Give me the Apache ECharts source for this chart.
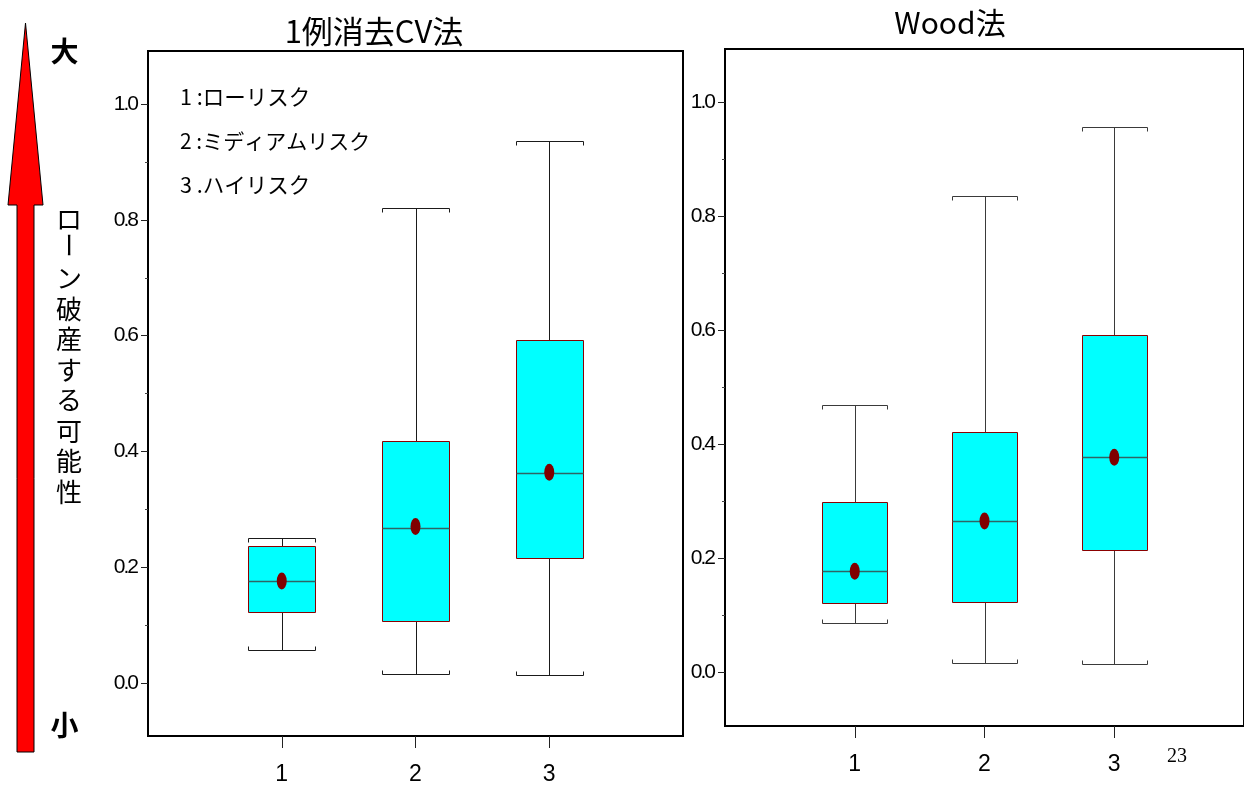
<!DOCTYPE html>
<html>
<head>
<meta charset="utf-8">
<script src="https://cdn.jsdelivr.net/npm/echarts@6/dist/echarts.min.js"></script>
<style>
html,body{margin:0;padding:0;background:#fff;}
#c{width:1244px;height:787px;}
</style>
</head>
<body>
<div id="c"></div>
<script>
// ---- data ----
const categories = ['1', '2', '3'];
const riskLabels = ['1 :ローリスク', '2 :ミディアムリスク', '3 .ハイリスク'];
const panelTitles = ['1例消去CV法', 'Wood法'];

// left panel: 1例消去CV法
const cvLow    = [0.056, 0.016, 0.014];
const cvQ1     = [0.122, 0.107, 0.216];
const cvMedian = [0.176, 0.268, 0.362];
const cvQ3     = [0.236, 0.418, 0.592];
const cvHigh   = [0.251, 0.821, 0.937];
const cvMean   = [0.176, 0.270, 0.364];

// right panel: Wood法
const woodLow    = [0.087, 0.017, 0.016];
const woodQ1     = [0.122, 0.124, 0.215];
const woodMedian = [0.178, 0.266, 0.378];
const woodQ3     = [0.300, 0.422, 0.593];
const woodHigh   = [0.470, 0.836, 0.957];
const woodMean   = [0.178, 0.266, 0.378];

const yTickValues  = [0, 0.2, 0.4, 0.6, 0.8, 1.0];
const yMinorValues = [0.1, 0.3, 0.5, 0.7, 0.9];
const xTickValues  = [1, 2, 3];

// ---- build ----
function boxData(low, q1, med, q3, high) {
  return categories.map((c, i) => [i + 1, low[i], q1[i], med[i], q3[i], high[i]]);
}
function meanData(mean) {
  return categories.map((c, i) => [i + 1, mean[i]]);
}

function makeRender(whiskerColor) {
  return function (params, api) {
    const x = api.value(0);
    const cx = Math.round(api.coord([x, 0])[0]) + 0.5;
    const l = Math.round(api.coord([x - 0.25, 0])[0]) + 0.5;
    const r = Math.round(api.coord([x + 0.25, 0])[0]) + 0.5;
    const Y = v => Math.round(api.coord([x, v])[1]) + 0.5;
    const yLow = Y(api.value(1)), yQ1 = Y(api.value(2)), yMed = Y(api.value(3)),
          yQ3 = Y(api.value(4)), yHigh = Y(api.value(5));
    const ws = { stroke: whiskerColor, lineWidth: 1, fill: null };
    return {
      type: 'group',
      children: [
        { type: 'line', shape: { x1: cx, y1: yLow, x2: cx, y2: yQ1 }, style: ws },
        { type: 'line', shape: { x1: cx, y1: yQ3, x2: cx, y2: yHigh }, style: ws },
        { type: 'polyline', shape: { points: [[l, yLow - 4], [l, yLow], [r, yLow], [r, yLow - 4]] }, style: ws },
        { type: 'polyline', shape: { points: [[l, yHigh + 4], [l, yHigh], [r, yHigh], [r, yHigh + 4]] }, style: ws },
        { type: 'rect', shape: { x: l, y: yQ3, width: r - l, height: yQ1 - yQ3 },
          style: { fill: '#00FFFF', stroke: '#8B0000', lineWidth: 1 } },
        { type: 'line', shape: { x1: l, y1: yMed, x2: r, y2: yMed },
          style: { stroke: '#2f6464', lineWidth: 1.5 } }
      ]
    };
  };
}

const numFont = '"Liberation Sans", Arial, sans-serif';
const yLabel = {
  customValues: yTickValues,
  margin: 9,
  formatter: v => { const s = v.toFixed(1).split('.'); return '{n|' + s[0] + '}{d|.}{n|' + s[1] + '}'; },
  rich: {
    n: { fontSize: 21, fontFamily: numFont, color: '#000' },
    d: { fontSize: 21, fontFamily: numFont, color: '#000', width: 2, align: 'center' }
  }
};

function yAxesFor(gridIndex, min, max) {
  return [
    { type: 'value', gridIndex, min, max, position: 'left',
      axisLine: { show: false, onZero: false },
      splitLine: { show: false },
      axisTick: { show: true, length: 7, customValues: yTickValues, lineStyle: { color: '#222', width: 1 } },
      axisLabel: yLabel },
    { type: 'value', gridIndex, min, max, position: 'left',
      axisLine: { show: false, onZero: false },
      splitLine: { show: false },
      axisTick: { show: true, length: 3, customValues: yMinorValues, lineStyle: { color: '#444', width: 1 } },
      axisLabel: { show: false } }
  ];
}

function xAxisFor(gridIndex) {
  return { type: 'value', gridIndex, min: 0, max: 4, position: 'bottom',
    axisLine: { show: false, onZero: false }, splitLine: { show: false },
    axisTick: { show: true, length: 12, customValues: xTickValues, lineStyle: { color: '#222', width: 1 } },
    axisLabel: { customValues: xTickValues, formatter: v => categories[v - 1] || '',
      fontSize: 23, fontFamily: numFont, color: '#000', margin: 27 } };
}

const chart = echarts.init(document.getElementById('c'));
const jp = '"Noto Sans CJK JP", "Noto Sans", sans-serif';

chart.setOption({
  animation: false,
  backgroundColor: '#fff',
  grid: [
    { left: 148, top: 51, width: 535, height: 685, show: true, borderColor: '#000', borderWidth: 2, backgroundColor: 'transparent' },
    { left: 725, top: 49, width: 532, height: 677, show: true, borderColor: '#000', borderWidth: 2, backgroundColor: 'transparent' }
  ],
  xAxis: [xAxisFor(0), xAxisFor(1)],
  yAxis: [].concat(yAxesFor(0, -0.092, 1.092), yAxesFor(1, -0.0935, 1.094)),
  series: [
    { type: 'custom', xAxisIndex: 0, yAxisIndex: 0, renderItem: makeRender('#1a1a1a'),
      encode: { x: 0, y: [1, 2, 3, 4, 5] }, data: boxData(cvLow, cvQ1, cvMedian, cvQ3, cvHigh), z: 2 },
    { type: 'scatter', xAxisIndex: 0, yAxisIndex: 0, data: meanData(cvMean),
      symbol: 'circle', symbolSize: [10, 17], itemStyle: { color: '#800000', opacity: 1 }, z: 5 },
    { type: 'custom', xAxisIndex: 1, yAxisIndex: 2, renderItem: makeRender('#3a3a3a'),
      encode: { x: 0, y: [1, 2, 3, 4, 5] }, data: boxData(woodLow, woodQ1, woodMedian, woodQ3, woodHigh), z: 2 },
    { type: 'scatter', xAxisIndex: 1, yAxisIndex: 2, data: meanData(woodMean),
      symbol: 'circle', symbolSize: [10, 17], itemStyle: { color: '#800000', opacity: 1 }, z: 5 }
  ],
  graphic: [
    { type: 'polygon', z: 10,
      shape: { points: [[25.5, 23], [43, 205], [34, 205], [34, 752], [17, 752], [17, 205], [8, 205]] },
      style: { fill: '#FF0000', stroke: '#000', lineWidth: 1 } },
    { type: 'text', z: 10, x: 64.5, y: 51,
      style: { text: '大', font: 'bold 28px ' + jp, fill: '#000', align: 'center', verticalAlign: 'middle' } },
    { type: 'text', z: 10, x: 64.5, y: 725,
      style: { text: '小', font: 'bold 28px ' + jp, fill: '#000', align: 'center', verticalAlign: 'middle' } },
    { type: 'text', z: 10, x: 69, y: 219,
      style: { text: 'ロ', font: '26px ' + jp, fill: '#000', align: 'center', verticalAlign: 'middle' } },
    { type: 'text', z: 10, x: 69, y: 245, rotation: -Math.PI / 2,
      style: { text: 'ー', font: '26px ' + jp, fill: '#000', align: 'center', verticalAlign: 'middle' } },
    { type: 'text', z: 10, x: 69, y: 263,
      style: { text: 'ン\n破\n産\nす\nる\n可\n能\n性', font: '26px ' + jp, lineHeight: 30.5,
        fill: '#000', align: 'center', verticalAlign: 'top' } },
    { type: 'text', z: 10, x: 374, y: 31,
      style: { text: panelTitles[0], font: '31px ' + jp, fill: '#000', align: 'center', verticalAlign: 'middle' } },
    { type: 'text', z: 10, x: 950, y: 23,
      style: { text: panelTitles[1], font: '30px ' + jp, fill: '#000', align: 'center', verticalAlign: 'middle' } },
    { type: 'text', z: 10, x: 180, y: 97,
      style: { text: riskLabels[0], font: '21.5px ' + jp, fill: '#000', align: 'left', verticalAlign: 'middle' } },
    { type: 'text', z: 10, x: 180, y: 141,
      style: { text: riskLabels[1], font: '21px ' + jp, fill: '#000', align: 'left', verticalAlign: 'middle' } },
    { type: 'text', z: 10, x: 180, y: 185,
      style: { text: riskLabels[2], font: '21.5px ' + jp, fill: '#000', align: 'left', verticalAlign: 'middle' } },
    { type: 'text', z: 10, x: 1177, y: 757,
      style: { text: '23', font: '20px "Liberation Serif", serif', fill: '#000', align: 'center', verticalAlign: 'middle' } }
  ]
});
</script>
</body>
</html>
